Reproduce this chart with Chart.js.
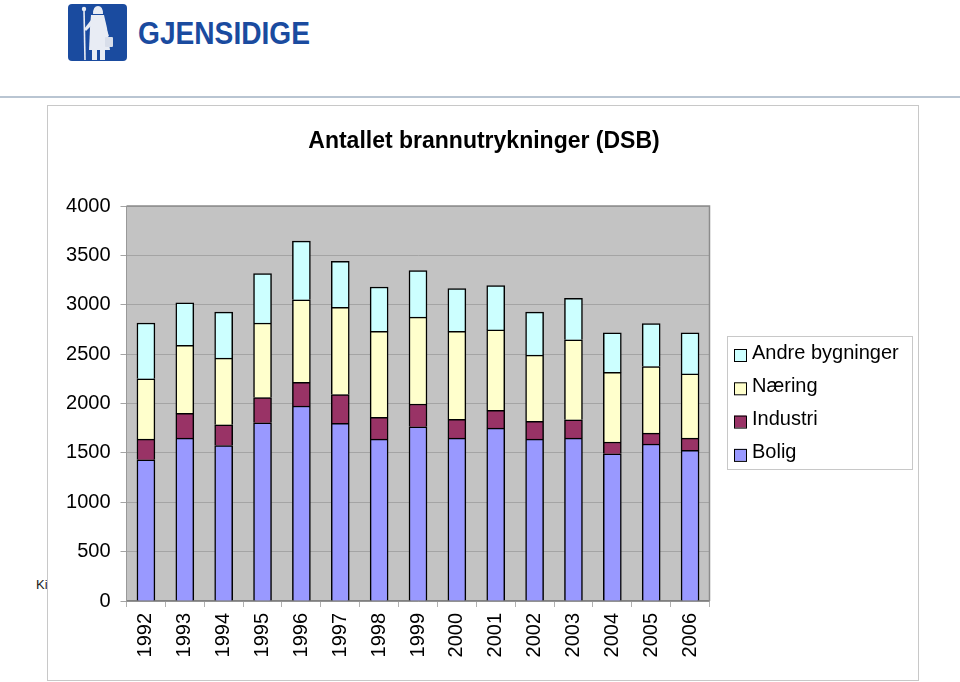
<!DOCTYPE html>
<html>
<head>
<meta charset="utf-8">
<script src="https://cdn.jsdelivr.net/npm/chart.js@4/dist/chart.umd.min.js"></script>
<style>
  body { margin: 0; background: #fff; width: 960px; height: 682px; overflow: hidden; position: relative; font-family: "Liberation Sans", Arial, sans-serif; }
  #logo { position: absolute; left: 0; top: 0; }
  #rule { position: absolute; left: 0; top: 96px; width: 960px; height: 2px; background: #b9c5d2; }
  #ki { position: absolute; left: 36px; top: 577px; font-size: 13px; color: #222; }
  #frame { position: absolute; left: 47px; top: 105px; width: 870px; height: 574px; border: 1px solid #c8c8c8; background: #fff; }
  #chart { position: absolute; left: 0; top: 0; }
</style>
</head>
<body>
<svg id="logo" width="330" height="70">
  <rect x="68" y="4" width="59" height="57" rx="4" fill="#1a4b9f"/>
  <!-- staff -->
  <line x1="84" y1="10" x2="85" y2="60" stroke="#e8ecf4" stroke-width="1.6"/>
  <circle cx="84" cy="9" r="2.2" fill="#e8ecf4"/>
  <!-- head -->
  <path d="M93 14 Q93 6 98 6 Q103 6 103 14 Z" fill="#e8ecf4"/>
  <!-- body / dress -->
  <path d="M91 15 L104 15 L107 28 L110 50 L89 50 L90 28 Z" fill="#e8ecf4"/>
  <path d="M91 20 L84 29 L86 31 L93 24 Z" fill="#e8ecf4"/>
  <path d="M104 22 L109 36 L107 37 L102 26 Z" fill="#e8ecf4"/>
  <!-- bag -->
  <rect x="105" y="37" width="8" height="10" rx="1" fill="#d8deea"/>
  <!-- legs -->
  <rect x="92" y="50" width="5" height="10" fill="#e8ecf4"/>
  <rect x="100" y="50" width="5" height="10" fill="#e8ecf4"/>
  <text x="138" y="44" font-family="Liberation Sans" font-weight="bold" font-size="31" fill="#1a4b9f" textLength="172" lengthAdjust="spacingAndGlyphs">GJENSIDIGE</text>
</svg>
<div id="rule"></div>
<div id="ki">Ki</div>
<div id="frame"></div>
<canvas id="chart" width="960" height="682"></canvas>
<script>
// data
const years = ['1992', '1993', '1994', '1995', '1996', '1997', '1998', '1999',
               '2000', '2001', '2002', '2003', '2004', '2005', '2006'];
const bolig    = [1430, 1650, 1575, 1805, 1975, 1800, 1640, 1765, 1650, 1750, 1640, 1650, 1490, 1590, 1525];
const industri = [ 210,  250,  210,  255,  240,  290,  220,  230,  190,  180,  180,  185,  120,  110,  125];
const naering  = [ 610,  690,  675,  755,  835,  885,  870,  880,  890,  815,  670,  810,  705,  675,  650];
const andre    = [ 565,  430,  465,  500,  595,  465,  450,  470,  435,  450,  435,  420,  400,  435,  415];
const seriesNames = ['Bolig', 'Industri', 'Næring', 'Andre bygninger'];
const chartTitle = 'Antallet brannutrykninger (DSB)';

const FONT = '"Liberation Sans", Arial, sans-serif';

// gray plot background + top/right border
const plotFrame = {
  id: 'plotFrame',
  beforeDraw(chart) {
    const { ctx, chartArea: a } = chart;
    ctx.save();
    ctx.fillStyle = '#c3c3c3';
    ctx.fillRect(a.left, a.top, a.right - a.left, a.bottom - a.top);
    ctx.restore();
  },
  afterDatasetsDraw(chart) {
    const { ctx, chartArea: a } = chart;
    ctx.save();
    ctx.strokeStyle = '#8c8c8c';
    ctx.lineWidth = 1.5;
    ctx.beginPath();
    ctx.moveTo(a.left, a.top);
    ctx.lineTo(a.right, a.top);
    ctx.lineTo(a.right, a.bottom);
    ctx.stroke();
    ctx.restore();
  }
};

// title text at the top of the frame
const titleText = {
  id: 'titleText',
  afterDraw(chart) {
    const ctx = chart.ctx;
    ctx.save();
    ctx.fillStyle = '#000';
    ctx.font = 'bold 23px ' + FONT;
    ctx.textAlign = 'center';
    ctx.textBaseline = 'alphabetic';
    ctx.fillText(chartTitle, 484, 148);
    ctx.restore();
  }
};

// boxed legend on the right, top series first
const legendBox = {
  id: 'legendBox',
  afterDraw(chart) {
    const ctx = chart.ctx;
    ctx.save();
    ctx.fillStyle = '#fff';
    ctx.fillRect(727, 336, 185, 133);
    ctx.strokeStyle = '#c8c8c8';
    ctx.lineWidth = 1;
    ctx.strokeRect(727.5, 336.5, 185, 133);
    ctx.font = '20px ' + FONT;
    ctx.textBaseline = 'middle';
    chart.data.datasets.slice().reverse().forEach((ds, i) => {
      const cy = 355 + i * 33.3;
      ctx.fillStyle = ds.backgroundColor;
      ctx.fillRect(734, cy - 6, 12, 12);
      ctx.strokeStyle = '#000';
      ctx.strokeRect(734.5, cy - 5.5, 12, 12);
      ctx.fillStyle = '#000';
      ctx.fillText(ds.label, 752, cy - 2);
    });
    ctx.restore();
  }
};

const colors = ['#9999ff', '#993366', '#ffffcc', '#ccffff'];
const values = [bolig, industri, naering, andre];

new Chart(document.getElementById('chart'), {
  type: 'bar',
  data: {
    labels: years,
    datasets: values.map((v, i) => ({
      label: seriesNames[i],
      data: v,
      backgroundColor: colors[i],
      borderColor: '#000',
      borderWidth: 1.5,
      barThickness: 18
    }))
  },
  options: {
    responsive: false,
    animation: false,
    layout: { padding: { top: 206, right: 250.5, left: 0, bottom: 0 } },
    plugins: { legend: { display: false }, title: { display: false }, tooltip: { enabled: false } },
    scales: {
      x: {
        stacked: true,
        afterFit: s => { s.height = 81; },
        grid: { display: true, drawOnChartArea: false, drawTicks: true, tickLength: 6, color: '#b0b0b0' },
        border: { display: true, color: '#808080', width: 1.5 },
        ticks: { minRotation: 90, maxRotation: 90, autoSkip: false, padding: 6,
                 color: '#000', font: { family: FONT, size: 20 } }
      },
      y: {
        stacked: true,
        min: 0, max: 4000,
        afterFit: s => { s.width = 126.5; },
        grid: { color: '#a4a4a4', lineWidth: 1, drawTicks: true, tickLength: 6 },
        border: { display: true, color: '#999', width: 1 },
        ticks: { stepSize: 500, padding: 10, color: '#000',
                 font: { family: FONT, size: 20 },
                 callback: v => String(v) }
      }
    }
  },
  plugins: [plotFrame, titleText, legendBox]
});
</script>
</body>
</html>
